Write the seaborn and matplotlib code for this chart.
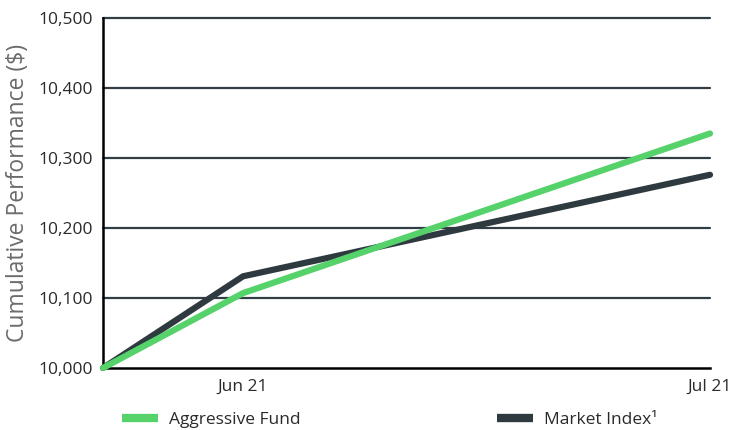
#!/usr/bin/env python3
"""Cumulative performance chart — Aggressive Fund vs Market Index."""

import matplotlib.dates as mdates
import matplotlib.pyplot as plt
import matplotlib.ticker as mticker
import pandas as pd
import seaborn as sns
from matplotlib.lines import Line2D

DATES = ["2021-05-23", "2021-06-01", "2021-07-01"]
AGGRESSIVE = [10000, 10107, 10335]
MARKET = [10000, 10131, 10276]
SERIES = ["Aggressive Fund", "Market Index\u00b9"]
COLORS = {"Aggressive Fund": "#56d26b", "Market Index\u00b9": "#2f3a40"}
Y_TICKS = [10000, 10100, 10200, 10300, 10400, 10500]


def main() -> int:
    df = pd.DataFrame({
        "date": pd.to_datetime(DATES * 2),
        "value": MARKET + AGGRESSIVE,
        "series": [SERIES[1]] * 3 + [SERIES[0]] * 3,
    })

    sns.set_style("white")
    plt.rcParams["font.family"] = ["Open Sans", "DejaVu Sans"]

    fig = plt.figure(figsize=(7.31, 4.30), dpi=100)
    ax = fig.add_axes([103 / 731, 1 - 368 / 430, (710 - 103) / 731, (368 - 18) / 430])

    for y in Y_TICKS[1:]:
        ax.axhline(y, color="#333d44", lw=1.6, zorder=1)

    sns.lineplot(data=df, x="date", y="value", hue="series", palette=COLORS,
                 hue_order=[SERIES[1], SERIES[0]], lw=4.5, legend=False, ax=ax,
                 zorder=3)
    for ln in ax.get_lines():
        ln.set_solid_capstyle("round")
        ln.set_clip_on(False)

    ax.set_xlim(pd.Timestamp(DATES[0]), pd.Timestamp(DATES[-1]))
    ax.set_ylim(Y_TICKS[0], Y_TICKS[-1])
    ax.set_yticks(Y_TICKS)
    ax.yaxis.set_major_formatter(mticker.FuncFormatter(lambda v, _: f"{int(v):,}"))
    ax.set_xticks(pd.to_datetime(DATES[1:]))
    ax.xaxis.set_major_formatter(mdates.DateFormatter("%b %y"))

    for side in ("top", "right"):
        ax.spines[side].set_visible(False)
    for side in ("left", "bottom"):
        ax.spines[side].set_color("black")
        ax.spines[side].set_linewidth(1.8)

    ax.tick_params(axis="y", length=0, pad=7, labelsize=12.5, colors="#2a2a2a")
    ax.tick_params(axis="x", length=5, width=1.5, color="black", pad=3,
                   labelsize=12.5, labelcolor="#2a2a2a", direction="out")
    ax.set_xlabel("")
    ax.set_ylabel("Cumulative Performance ($)", fontsize=16.5, color="#6b6b6b",
                  labelpad=6)

    for name, x0 in zip(SERIES, (123 / 731, 498 / 731)):
        handle = Line2D([], [], color=COLORS[name], lw=6, solid_capstyle="butt")
        fig.legend(handles=[handle], labels=[name], loc="center left",
                   bbox_to_anchor=(x0 - 0.011, 1 - 420 / 430), frameon=False,
                   fontsize=12.5, handlelength=2.1, handletextpad=0.6,
                   borderaxespad=0.0, labelcolor="#2a2a2a")

    fig.savefig("out.png", dpi=100)
    plt.close(fig)
    return 0


if __name__ == "__main__":
    raise SystemExit(main())
